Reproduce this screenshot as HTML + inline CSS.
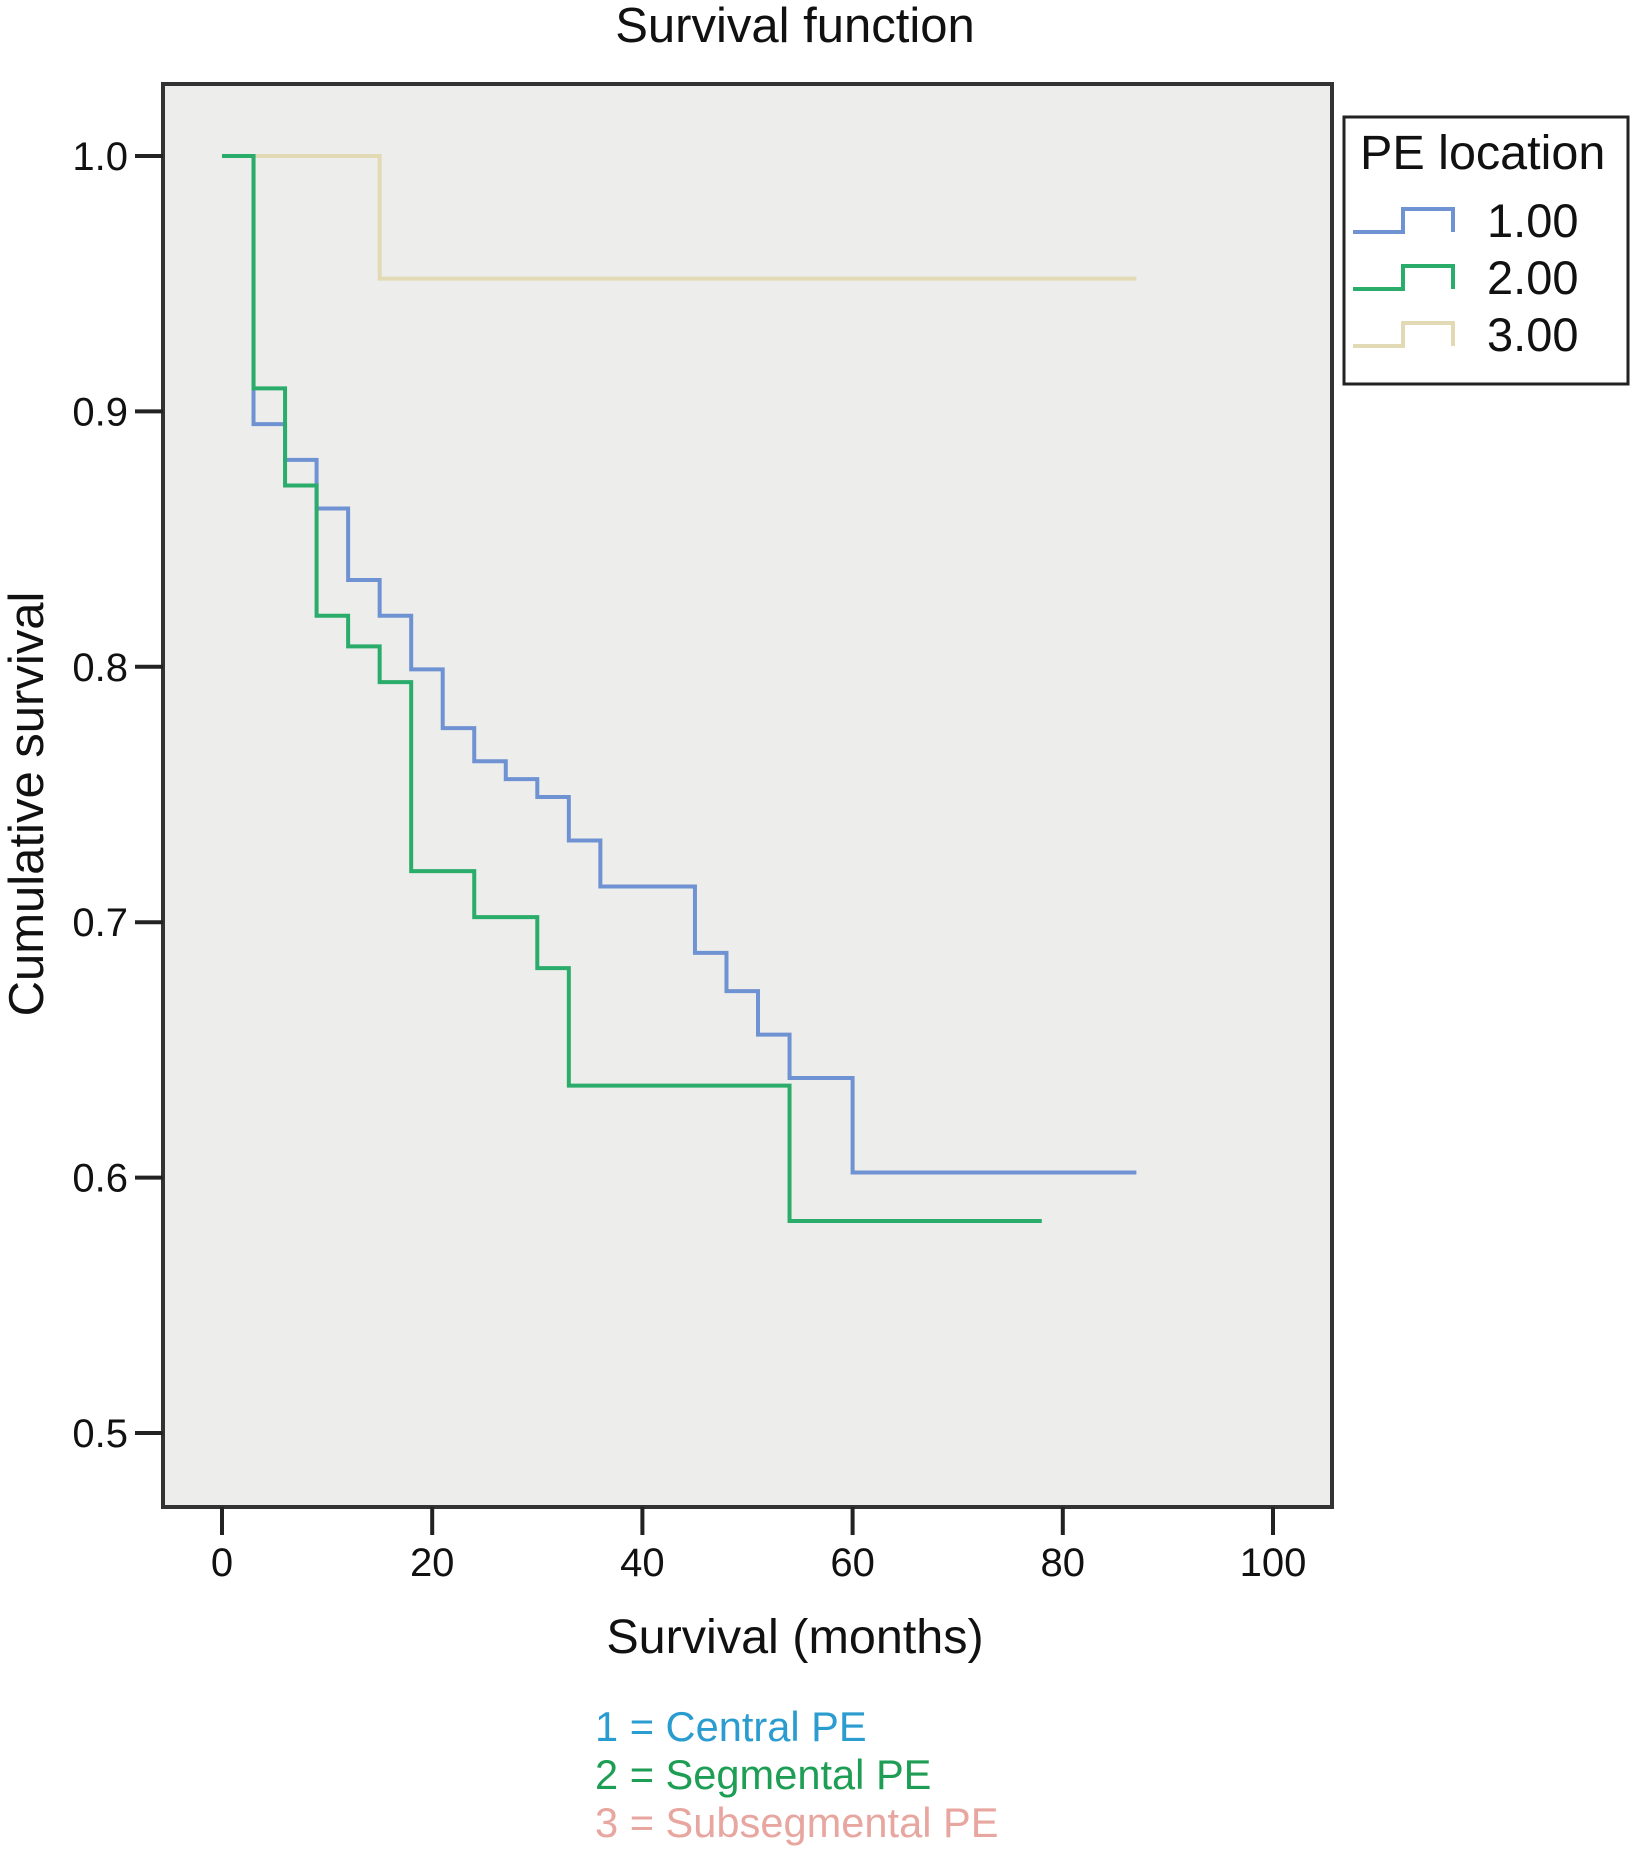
<!DOCTYPE html>
<html><head><meta charset="utf-8"><style>
html,body{margin:0;padding:0;background:#fff;}
svg text{font-family:"Liberation Sans",sans-serif;}
</style></head><body>
<svg id="chart" width="1632" height="1858" viewBox="0 0 1632 1858" xmlns="http://www.w3.org/2000/svg">
<rect x="0" y="0" width="1632" height="1858" fill="#fff"/>
<text x="795" y="42" font-size="49" text-anchor="middle" fill="#111">Survival function</text>
<rect x="163" y="84" width="1169" height="1423" fill="#ededeb" stroke="#333" stroke-width="4"/>
<g id="axes"></g>
<g id="series"></g>
<text transform="translate(43,804) rotate(-90)" font-size="49" text-anchor="middle" fill="#111">Cumulative survival</text>
<text x="795" y="1653" font-size="48.5" text-anchor="middle" fill="#111">Survival (months)</text>
<g>
<rect x="1344" y="117" width="284" height="267" fill="#fff" stroke="#222" stroke-width="3"/>
<text x="1360" y="169" font-size="48.5" fill="#111">PE location</text>
<g id="legend-entries"></g>
</g>
<text x="595" y="1741" font-size="41.6" fill="#2a9ccf">1 = Central PE</text>
<text x="595" y="1789" font-size="41.6" fill="#1e9e55">2 = Segmental PE</text>
<text x="595" y="1837" font-size="41.6" fill="#e8a6a0">3 = Subsegmental PE</text>
</svg>
<script>
const xTicks = [0,20,40,60,80,100];
const yTicks = [0.5,0.6,0.7,0.8,0.9,1.0];
const yTickLabels = ["0.5","0.6","0.7","0.8","0.9","1.0"];
const seriesNames = ["1.00","2.00","3.00"];
const blueTimes = [0,3,6,9,12,15,18,21,24,27,30,33,36,45,48,51,54,60,87];
const blueSurv = [1.0,0.895,0.881,0.862,0.834,0.82,0.799,0.776,0.763,0.756,0.749,0.732,0.714,0.688,0.673,0.656,0.639,0.602,0.602];
const greenTimes = [0,3,6,9,12,15,18,24,30,33,54,78];
const greenSurv = [1.0,0.909,0.871,0.820,0.808,0.794,0.720,0.702,0.682,0.636,0.583,0.583];
const tanTimes = [0,15,87];
const tanSurv = [1.0,0.952,0.952];

const NS = "http://www.w3.org/2000/svg";
function xS(v){ return 222 + v*10.51; }
function yS(v){ return 156 + (1.0 - v)*2554; }
function mk(tag, attrs, parent){ const e=document.createElementNS(NS,tag); for(const k in attrs) e.setAttribute(k,attrs[k]); parent.appendChild(e); return e; }

const axes = document.getElementById('axes');
xTicks.forEach((t,i)=>{
  const l = mk('line',{x1:xS(t),x2:xS(t),y1:1507,y2:1535,stroke:'#222','stroke-width':4},axes);
  
  
  const tx = mk('text',{x:xS(t),y:1576,'font-size':40,'text-anchor':'middle',fill:'#111'},axes);
  tx.textContent = String(t);
  
  
});
yTicks.forEach((t,i)=>{
  const l = mk('line',{x1:135,x2:163,y1:yS(t),y2:yS(t),stroke:'#222','stroke-width':4},axes);
  
  
  const tx = mk('text',{x:128,y:yS(t)+14,'font-size':40,'text-anchor':'end',fill:'#111'},axes);
  tx.textContent = yTickLabels[i];
  
  
});

function stepPath(ts, ss){
  let d = 'M'+xS(ts[0])+','+yS(ss[0]);
  for(let i=1;i<ts.length;i++){
    d += ' H'+xS(ts[i])+' V'+yS(ss[i]);
  }
  return d;
}
const colors = ["#6f92d2","#2aac6a","#e2dab4"];
const series = document.getElementById('series');
const tanP = mk('path',{d:stepPath(tanTimes,tanSurv),fill:'none',stroke:colors[2],'stroke-width':4},series);


const blueP = mk('path',{d:stepPath(blueTimes,blueSurv),fill:'none',stroke:colors[0],'stroke-width':4},series);


const greenP = mk('path',{d:stepPath(greenTimes,greenSurv),fill:'none',stroke:colors[1],'stroke-width':4},series);



const le = document.getElementById('legend-entries');
seriesNames.forEach((n,i)=>{
  const y0 = 232 + i*57;
  const p = mk('path',{d:'M1353,'+y0+' H1403 V'+(y0-23)+' H1453 V'+y0,fill:'none',stroke:colors[i],'stroke-width':4},le);
  
  
  const t = mk('text',{x:1487,y:y0+5,'font-size':47,fill:'#111'},le);
  t.textContent = n;
  
  
});
</script>
</body></html>
